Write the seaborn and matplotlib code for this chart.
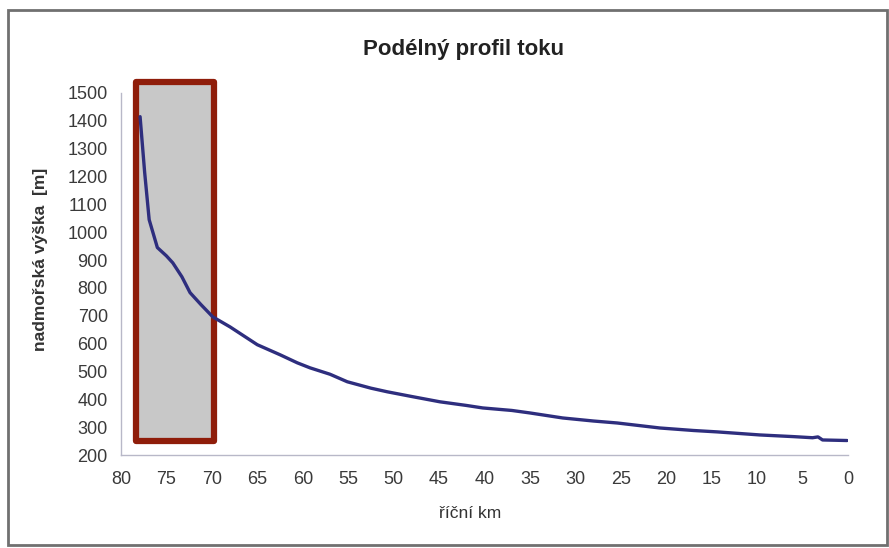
import matplotlib
matplotlib.use("Agg")
import matplotlib.pyplot as plt
import matplotlib.patches as mpatches
import seaborn as sns
import pandas as pd

# --- data ---
river_km = [77.9, 77.4, 76.9, 76.0, 75.0, 74.3, 73.3, 72.4, 71.2, 69.9, 68.0,
            65.0, 62.5, 60.6, 59.2, 57.0, 55.1, 52.5, 50.7, 48.0, 44.9, 42.0,
            40.2, 37.0, 35.0, 31.4, 28.0, 25.4, 20.7, 17.0, 14.4, 9.7, 6.0,
            3.9, 3.3, 2.8, 0.1]
elevation = [1415, 1216, 1045, 945, 915, 890, 840, 783, 740, 696, 660,
             596, 560, 531, 513, 490, 463, 440, 427, 410, 391, 378,
             369, 360, 351, 333, 322, 315, 297, 288, 283, 272, 266,
             262, 265, 254, 252]
highlight_km = [78.35, 69.8]
highlight_elev = [250, 1540]
x_ticks = list(range(80, -1, -5))
y_ticks = list(range(200, 1501, 100))

title = "Podélný profil toku"
x_label = "říční km"
y_label = "nadmořská výška  [m]"

df = pd.DataFrame({"km": river_km, "elev": elevation})

sns.set_theme(style="white")
plt.rcParams["font.family"] = ["Liberation Sans", "DejaVu Sans"]

fig = plt.figure(figsize=(8.89, 5.48), dpi=100)
ax = fig.add_axes([121 / 889, 1 - 455 / 548, (848 - 121) / 889, (455 - 93) / 548])

# highlight rectangle
x0, x1 = highlight_km
y0, y1 = highlight_elev
rect = mpatches.Rectangle((x1, y0), x0 - x1, y1 - y0, facecolor="#c8c8c8",
                          edgecolor="#8f1d0a", linewidth=4.5, clip_on=False,
                          zorder=1, joinstyle="round")
ax.add_patch(rect)

sns.lineplot(data=df, x="km", y="elev", ax=ax, color="#2e2e7e", linewidth=2.4,
             zorder=3)

ax.set_xlim(80, 0)
ax.set_ylim(200, 1500)
ax.set_xticks(x_ticks)
ax.set_yticks(y_ticks)
ax.set_xticklabels([str(t) for t in x_ticks])
ax.set_yticklabels([str(t) for t in y_ticks])

for s in ["top", "right"]:
    ax.spines[s].set_visible(False)
for s in ["left", "bottom"]:
    ax.spines[s].set_color("#b8b8c8")
    ax.spines[s].set_linewidth(1.0)
ax.tick_params(axis="both", which="major", direction="inout", length=5,
               width=1, color="#b8b8c8", labelsize=13, labelcolor="#3a3a3a")
ax.tick_params(axis="x", pad=9)
ax.tick_params(axis="y", pad=7)
ax.grid(False)
ax.set_facecolor("white")

ax.set_xlabel(x_label, fontsize=12.5, color="#333333")
ax.set_ylabel(y_label, fontsize=12.5, fontweight="bold", color="#333333")
ax.xaxis.set_label_coords(0.48, -0.14)
ax.yaxis.set_label_coords(-0.10, 0.54)
fig.text(463 / 889, 1 - 49 / 548, title, ha="center",
         va="center", fontsize=16, fontweight="bold", color="#222222")

# outer frame
frame = mpatches.Rectangle((8 / 889, 3 / 548), (887 - 8) / 889, (538 - 3) / 548,
                           transform=fig.transFigure, fill=False,
                           edgecolor="#707070", linewidth=2)
fig.patches.append(frame)

fig.savefig("out.png", dpi=100)
